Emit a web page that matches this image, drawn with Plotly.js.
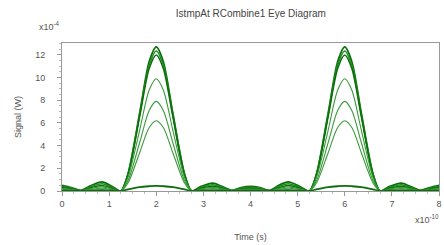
<!DOCTYPE html>
<html>
<head>
<meta charset="utf-8">
<script src="https://cdn.plot.ly/plotly-3.0.1.min.js"></script>
<style>html,body{margin:0;padding:0;background:#fff;}#chart{width:444px;height:245px;}</style>
</head>
<body>
<div id="chart"></div>
<script>
// Time in units of 1e-10 s, signal in units of 1e-4 W
const timeSamples = [0, 0.2, 0.4, 0.6, 0.85, 1.1, 1.25, 1.4, 1.65, 1.85, 2.0, 2.15, 2.35, 2.6, 2.75, 2.95, 3.2, 3.45, 3.6, 3.8, 4.0, 4.2, 4.4, 4.6, 4.8, 5.05, 5.25, 5.4, 5.65, 5.85, 6.0, 6.15, 6.35, 6.6, 6.75, 6.95, 7.2, 7.45, 7.6, 7.8, 8.0];

const level1 = [0.5, 0.3, 0.05, 0.45, 0.8, 0.3, 0, 1.5, 6.9, 11.4, 12.7, 11.4, 6.9, 1.5, 0, 0.4, 0.7, 0.3, 0.05, 0.3, 0.4, 0.3, 0.05, 0.5, 0.8, 0.4, 0, 1.5, 6.9, 11.4, 12.7, 11.4, 6.9, 1.5, 0, 0.4, 0.7, 0.3, 0.05, 0.3, 0.5];
const level2 = [0.4, 0.25, 0.04, 0.36, 0.64, 0.24, 0, 1.5, 6.8, 11.1, 12.35, 11.1, 6.8, 1.5, 0, 0.32, 0.56, 0.24, 0.04, 0.24, 0.32, 0.24, 0.04, 0.4, 0.64, 0.32, 0, 1.5, 6.8, 11.1, 12.35, 11.1, 6.8, 1.5, 0, 0.32, 0.56, 0.24, 0.04, 0.24, 0.4];
const level3 = [0.3, 0.18, 0.03, 0.27, 0.48, 0.18, 0, 1.4, 6.6, 10.8, 12.0, 10.8, 6.6, 1.4, 0, 0.24, 0.42, 0.18, 0.03, 0.18, 0.24, 0.18, 0.03, 0.3, 0.48, 0.24, 0, 1.4, 6.6, 10.8, 12.0, 10.8, 6.6, 1.4, 0, 0.24, 0.42, 0.18, 0.03, 0.18, 0.3];
const level4 = [0.22, 0.14, 0.02, 0.2, 0.36, 0.14, 0, 1.2, 5.4, 8.9, 9.9, 8.9, 5.4, 1.2, 0, 0.18, 0.32, 0.14, 0.02, 0.14, 0.18, 0.14, 0.02, 0.22, 0.36, 0.18, 0, 1.2, 5.4, 8.9, 9.9, 8.9, 5.4, 1.2, 0, 0.18, 0.32, 0.14, 0.02, 0.14, 0.22];
const level5 = [0.15, 0.09, 0.01, 0.13, 0.24, 0.09, 0, 0.9, 4.3, 7.1, 7.9, 7.1, 4.3, 0.9, 0, 0.12, 0.21, 0.09, 0.01, 0.09, 0.12, 0.09, 0.01, 0.15, 0.24, 0.12, 0, 0.9, 4.3, 7.1, 7.9, 7.1, 4.3, 0.9, 0, 0.12, 0.21, 0.09, 0.01, 0.09, 0.15];
const level6 = [0.08, 0.05, 0.01, 0.07, 0.12, 0.05, 0, 0.7, 3.4, 5.6, 6.2, 5.6, 3.4, 0.7, 0, 0.06, 0.1, 0.05, 0.01, 0.05, 0.06, 0.05, 0.01, 0.08, 0.12, 0.06, 0, 0.7, 3.4, 5.6, 6.2, 5.6, 3.4, 0.7, 0, 0.06, 0.1, 0.05, 0.01, 0.05, 0.08];
const levelLow = [0.03, 0.02, 0, 0.02, 0.04, 0.02, 0, 0.15, 0.35, 0.42, 0.45, 0.42, 0.35, 0.15, 0, 0.02, 0.03, 0.02, 0, 0.02, 0.02, 0.02, 0, 0.03, 0.04, 0.02, 0, 0.15, 0.35, 0.42, 0.45, 0.42, 0.35, 0.15, 0, 0.02, 0.03, 0.02, 0, 0.02, 0.03];

const xTickVals = [0, 1, 2, 3, 4, 5, 6, 7, 8];
const yTickVals = [0, 2, 4, 6, 8, 10, 12];

const series = [
  {y: level1, color: '#0b6e0b', w: 1.8},
  {y: level2, color: '#1f8f1f', w: 1.5},
  {y: level3, color: '#0b6e0b', w: 1.5},
  {y: level4, color: '#3a9a3a', w: 1.1},
  {y: level5, color: '#3a9a3a', w: 1.1},
  {y: level6, color: '#3a9a3a', w: 1.1},
  {y: levelLow, color: '#0b6e0b', w: 1.8}
];

const traces = series.map(s => ({
  type: 'scatter', mode: 'lines', x: timeSamples, y: s.y,
  line: {color: s.color, width: s.w, shape: 'spline', smoothing: 0.8},
  hoverinfo: 'skip', showlegend: false
}));

const axisFont = {family: 'Liberation Sans, Arial, sans-serif', size: 9, color: '#555'};

const layout = {
  width: 444, height: 245,
  margin: {l: 62, r: 5, t: 43, b: 54},
  paper_bgcolor: '#fff', plot_bgcolor: '#fff',
  showlegend: false,
  title: {text: 'IstmpAt RCombine1 Eye Diagram', x: 0.565, xanchor: 'center', y: 0.945, yanchor: 'middle',
          font: {family: 'Liberation Sans, Arial, sans-serif', size: 10, color: '#444'}},
  xaxis: {
    range: [0, 8], tickvals: xTickVals, ticktext: xTickVals.map(String),
    showgrid: false, zeroline: false, showline: true, mirror: true, linecolor: '#999', linewidth: 1,
    ticks: 'outside', ticklen: 4, tickcolor: '#999', tickfont: axisFont,
    minor: {ticks: 'outside', ticklen: 2, dtick: 0.25, tickcolor: '#bbb'},
    title: {text: 'Time (s)', font: {family: 'Liberation Sans, Arial, sans-serif', size: 9, color: '#555'}, standoff: 25}
  },
  yaxis: {
    range: [0, 13.05], tickvals: yTickVals, ticktext: yTickVals.map(String),
    showgrid: false, zeroline: false, showline: true, mirror: true, linecolor: '#999', linewidth: 1,
    ticks: 'outside', ticklen: 4, tickcolor: '#999', tickfont: axisFont, ticklabelstandoff: 10,
    minor: {ticks: 'outside', ticklen: 2, dtick: 0.5, tickcolor: '#bbb'},
    title: {text: 'Signal (W)', font: {family: 'Liberation Sans, Arial, sans-serif', size: 9, color: '#555'}, standoff: 12}
  },
  annotations: [
    {text: 'x10<sup>-4</sup>', xref: 'paper', yref: 'paper', x: 0.0, y: 1.115, xanchor: 'right', yanchor: 'middle',
     showarrow: false, font: axisFont},
    {text: 'x10<sup>-10</sup>', xref: 'paper', yref: 'paper', x: 1.005, y: -0.19, xanchor: 'right', yanchor: 'middle',
     showarrow: false, font: axisFont}
  ]
};

Plotly.newPlot('chart', traces, layout, {staticPlot: true, displayModeBar: false});
</script>
</body>
</html>
